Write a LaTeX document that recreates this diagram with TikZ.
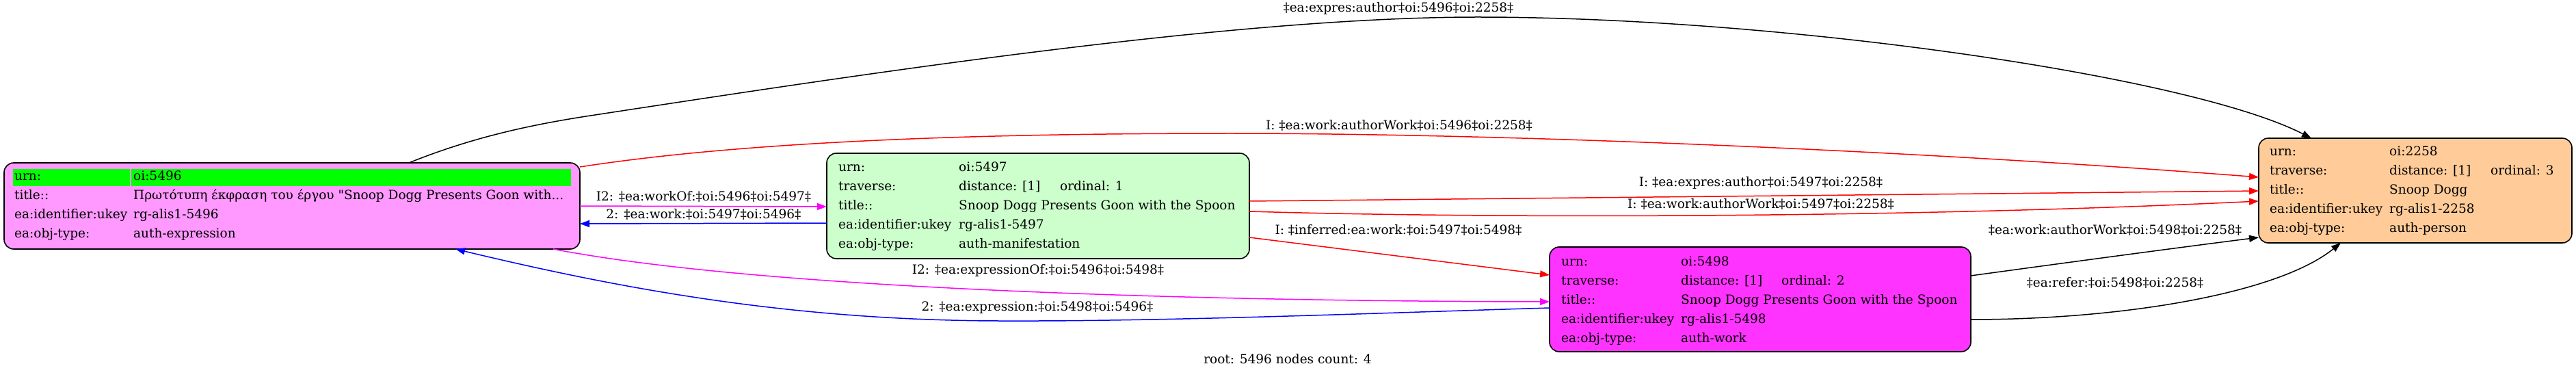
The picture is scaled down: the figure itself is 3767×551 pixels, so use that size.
\documentclass[tikz,border=0pt]{standalone}
\usepackage{fontspec}
\newfontfamily\gvfont{DejaVu Serif}
\usetikzlibrary{arrows.meta,calc}
\definecolor{pinkA}{HTML}{FF99FF}
\definecolor{greenA}{HTML}{CCFFCC}
\definecolor{magA}{HTML}{FF33FF}
\definecolor{orangeA}{HTML}{FFCC99}
\definecolor{hdr}{HTML}{00FF00}
\definecolor{edgeM}{HTML}{FF00FF}
\definecolor{edgeB}{HTML}{0000FF}
\definecolor{edgeR}{HTML}{FF0000}
\tikzset{
  gvtext/.style={font=\gvfont\fontsize{18.5bp}{22bp}\selectfont},
  recbox/.style={draw=black, line width=1.6bp, rounded corners=14bp, inner sep=0pt, outer sep=0pt},
  celltxt/.style={gvtext, anchor=base west, inner sep=0pt},
  elabel/.style={gvtext, anchor=mid, inner sep=0pt},
  conn/.style={line width=1.5bp, -{Triangle[length=14bp,width=10bp]}},
}
\begin{document}
\begin{tikzpicture}[x=1bp,y=-1bp]
\path[use as bounding box, fill=white] (0,0) rectangle (3767,551);

% record boxes
\node[recbox, fill=pinkA, minimum width=842bp, minimum height=126bp] (n5496) at (427,301) {};
\node[recbox, fill=greenA, minimum width=618bp, minimum height=154bp] (n5497) at (1518,301) {};
\node[recbox, fill=magA, minimum width=616bp, minimum height=153bp] (n5498) at (2574,437.5) {};
\node[recbox, fill=orangeA, minimum width=458bp, minimum height=153bp] (n2258) at (3532,278.5) {};

% header row of root
\fill[hdr] (19,247) rectangle (190,272);
\fill[hdr] (192,247) rectangle (835,272);

% node 5496
\node[celltxt] (a1) at (21,264) {urn:};
\node[celltxt] (a1v) at (195,264) {oi:5496};
\node[celltxt] (a2) at (21,292) {title::};
\node[celltxt] (a2v) at (195,292) {Πρωτότυπη έκφραση του έργου "Snoop Dogg Presents Goon with...};
\node[celltxt] (a3) at (21,320) {ea:identifier:ukey};
\node[celltxt] (a3v) at (195,320) {rg-alis1-5496};
\node[celltxt] (a4) at (21,348) {ea:obj-type:};
\node[celltxt] (a4v) at (195,348) {auth-expression};

% node 5497
\node[celltxt] (b1) at (1226,251) {urn:};
\node[celltxt] (b1v) at (1402,251) {oi:5497};
\node[celltxt] (b2) at (1226,279) {traverse:};
\node[celltxt] (b2v) at (1402,279) {distance: [1]};
\node[celltxt] (b2o) at (1550,279) {ordinal: 1};
\node[celltxt] (b3) at (1226,307) {title::};
\node[celltxt] (b3v) at (1402,307) {Snoop Dogg Presents Goon with the Spoon};
\node[celltxt] (b4) at (1226,335) {ea:identifier:ukey};
\node[celltxt] (b4v) at (1402,335) {rg-alis1-5497};
\node[celltxt] (b5) at (1226,363) {ea:obj-type:};
\node[celltxt] (b5v) at (1402,363) {auth-manifestation};

% node 5498
\node[celltxt] (c1) at (2283,388) {urn:};
\node[celltxt] (c1v) at (2458,388) {oi:5498};
\node[celltxt] (c2) at (2283,416) {traverse:};
\node[celltxt] (c2v) at (2458,416) {distance: [1]};
\node[celltxt] (c2o) at (2605,416) {ordinal: 2};
\node[celltxt] (c3) at (2283,444) {title::};
\node[celltxt] (c3v) at (2458,444) {Snoop Dogg Presents Goon with the Spoon};
\node[celltxt] (c4) at (2283,472) {ea:identifier:ukey};
\node[celltxt] (c4v) at (2458,472) {rg-alis1-5498};
\node[celltxt] (c5) at (2283,500) {ea:obj-type:};
\node[celltxt] (c5v) at (2458,500) {auth-work};

% node 2258
\node[celltxt] (d1) at (3319,228) {urn:};
\node[celltxt] (d1v) at (3494,228) {oi:2258};
\node[celltxt] (d2) at (3319,256) {traverse:};
\node[celltxt] (d2v) at (3494,256) {distance: [1]};
\node[celltxt] (d2o) at (3642,256) {ordinal: 3};
\node[celltxt] (d3) at (3319,284) {title::};
\node[celltxt] (d3v) at (3494,284) {Snoop Dogg};
\node[celltxt] (d4) at (3319,312) {ea:identifier:ukey};
\node[celltxt] (d4v) at (3494,312) {rg-alis1-2258};
\node[celltxt] (d5) at (3319,340) {ea:obj-type:};
\node[celltxt] (d5v) at (3494,340) {auth-person};

% connectors
\draw[conn] ($(n5496.north west)+(592,0)$) .. controls (680,205) and (760,185) .. (857,170)
  .. controls (1250,110) and (1800,25) .. (2161,25)
  .. controls (2600,25) and (3200,110) .. ($(n2258.north west)+(77,0)$);
\draw[conn, edgeR] ($(n5496.north east)+(0,6)$) .. controls (1100,205) and (1450,195) .. (1800,195)
  .. controls (2200,195) and (2800,220) .. ($(n2258.west)+(0,-19.5)$);
\draw[conn, edgeM] (n5496.east) -- ($(n5497.west)+(0,1)$);
\draw[conn, edgeB] ($(n5497.west)+(0,25)$) -- ($(n5496.east)+(0,26)$);
\draw[conn, edgeM] ($(n5496.south east)+(-39,0)$) .. controls (1100,420) and (1700,440) .. ($(n5498.west)+(0,3.5)$);
\draw[conn, edgeB] ($(n5498.west)+(0,12.5)$) .. controls (2000,458) and (1700,470) .. (1460,469)
  .. controls (1150,468) and (900,420) .. ($(n5496.south east)+(-182,0)$);
\draw[conn, edgeR] ($(n5497.east)+(0,-7)$) -- ($(n2258.west)+(0,0.5)$);
\draw[conn, edgeR] ($(n5497.east)+(0,8)$) .. controls (2200,320) and (2800,318) .. ($(n2258.west)+(0,15.5)$);
\draw[conn, edgeR] ($(n5497.east)+(0,46)$) -- ($(n5498.west)+(0,-35.5)$);
\draw[conn] ($(n5498.east)+(0,-34.5)$) .. controls (3050,380) and (3200,360) .. ($(n2258.west)+(0,68.5)$);
\draw[conn] ($(n5498.east)+(0,29.5)$) .. controls (3100,467) and (3330,430) .. ($(n2258.south west)+(120,0)$);

% connector labels
\node[elabel] (l1) at (2045,15) {‡ea:expres:author‡oi:5496‡oi:2258‡};
\node[elabel] (l2) at (2046,187) {I: ‡ea:work:authorWork‡oi:5496‡oi:2258‡};
\node[elabel] (l3) at (1029,291) {I2: ‡ea:workOf:‡oi:5496‡oi:5497‡};
\node[elabel] (l4) at (1029,317) {2: ‡ea:work:‡oi:5497‡oi:5496‡};
\node[elabel] (l5) at (1518,398) {I2: ‡ea:expressionOf:‡oi:5496‡oi:5498‡};
\node[elabel] (l6) at (1517,452) {2: ‡ea:expression:‡oi:5498‡oi:5496‡};
\node[elabel] (l7) at (2575,270) {I: ‡ea:expres:author‡oi:5497‡oi:2258‡};
\node[elabel] (l8) at (2575,302) {I: ‡ea:work:authorWork‡oi:5497‡oi:2258‡};
\node[elabel] (l9) at (2045,340) {I: ‡inferred:ea:work:‡oi:5497‡oi:5498‡};
\node[elabel] (l10) at (3093,340) {‡ea:work:authorWork‡oi:5498‡oi:2258‡};
\node[elabel] (l11) at (3093,417) {‡ea:refer:‡oi:5498‡oi:2258‡};

\node[elabel] (footer) at (1883,529) {root: 5496 nodes count: 4};
\end{tikzpicture}
\end{document}
